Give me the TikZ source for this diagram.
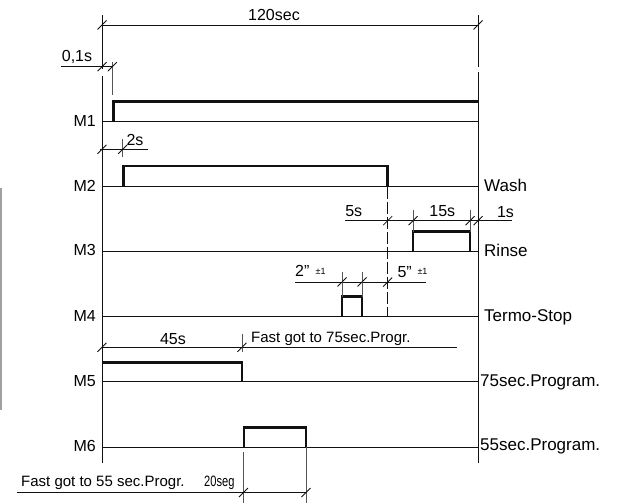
\documentclass[tikz,border=0pt]{standalone}
\usepackage{fontspec}
\setmainfont{Liberation Sans}
\newfontfamily\narrowfont[FakeStretch=0.74]{Liberation Sans}
\usepackage{xcolor}
\usetikzlibrary{positioning}
\definecolor{ink}{HTML}{111111}
\definecolor{inkgray}{HTML}{555555}
\definecolor{scangray}{HTML}{A0A0A0}
\tikzset{
  axisline/.style={draw=ink,line width=0.9pt},
  signal/.style={draw=ink,line width=2.8pt},
  dimline/.style={draw=ink,line width=0.8pt},
  extline/.style={draw=inkgray,line width=0.7pt},
  dimtick/.pic={\draw[ink,line width=0.8pt] (-4.5,4.5) -- (4.5,-4.5);},
  chanlabel/.style={anchor=base east,inner sep=0pt,font=\fontsize{16}{18}\selectfont},
  progname/.style={anchor=base west,inner sep=0pt,font=\fontsize{17}{19}\selectfont},
  dimtext/.style={anchor=base,inner sep=0pt,font=\fontsize{16}{18}\selectfont},
  notetext/.style={anchor=base west,inner sep=0pt,font=\fontsize{15}{17}\selectfont},
  toltext/.style={anchor=base west,inner sep=0pt,font=\fontsize{9}{10}\selectfont}
}

\begin{document}
\begin{tikzpicture}[x=1pt,y=-1pt]
  \useasboundingbox (0,0) rectangle (618,503);
  \draw[draw=scangray,line width=1.2pt] (1,188) -- (1,410);

  % axes
  \draw[axisline] (102,15) -- (102,68.5) (102,76) -- (102,463);
  \draw[axisline] (478,15) -- (478,67) (478,72) -- (478,463);
  \foreach \yb/\ch in {121.7/1,186.7/2,251/3,316.7/4,381.7/5,447/6}{
    \draw[axisline] (102,\yb) -- (478,\yb);
    \node[chanlabel] (m\ch) at (96,\yb+4.5) {M\ch};
  }
  \node[progname] (wash) at (484,191) {Wash};
  \node[progname] (rinse) at (484,256) {Rinse};
  \node[progname] (termo) at (484,321) {Termo-Stop};
  \node[progname] (p75) at (480,386.5) {75sec.Program.};
  \node[progname] (p55) at (480,450) {55sec.Program.};

  % signals
  \draw[signal] (113.3,121.7) |- (478,101.5);
  \draw[signal] (123.3,186.7) |- (387.7,166) -- (387.7,186.7);
  \draw[signal] (413,251) |- (470,231.7) -- (470,251);
  \draw[signal] (342,316.7) |- (362,296.7) -- (362,316.7);
  \draw[signal] (102,362.7) -| (242,381.7);
  \draw[signal] (244,447) |- (306,427.3) -- (306,447);
  \draw[axisline,dash pattern=on 12pt off 3pt] (387.7,186.7) -- (387.7,316.7);

  % 120sec
  \draw[dimline] (102,25) -- (478,25);
  \pic at (102,25) {dimtick}; \pic at (478,25) {dimtick};
  \node[dimtext] (t120) at (274,20.7) {120sec};

  % 0,1s
  \draw[dimline] (61,66.7) -- (112.3,66.7);
  \draw[extline] (112.3,61.7) -- (112.3,95);
  \pic at (102,66.7) {dimtick}; \pic at (112.3,66.7) {dimtick};
  \node[dimtext] (t01) at (77,61) {0,1s};

  % 2s
  \draw[dimline] (100,149.3) -- (148,149.3);
  \draw[extline] (122.7,139.3) -- (122.7,157);
  \pic at (102,149.3) {dimtick}; \pic at (122.7,149.3) {dimtick};
  \node[dimtext] (t2) at (135,145) {2s};

  % 5s, 15s, 1s
  \draw[dimline] (345,220.7) -- (512,220.7);
  \draw[extline] (413,210) -- (413,231.7) (470,210) -- (470,231.7);
  \foreach \xt in {387.7,413,470,478} \pic at (\xt,220.7) {dimtick};
  \node[dimtext] (t5) at (353.7,216) {5s};
  \node[dimtext] (t15) at (442.3,216) {15s};
  \node[dimtext] (t1) at (505.5,217.5) {1s};

  % 2" and 5"
  \draw[dimline] (295,282) -- (425.7,282);
  \draw[extline] (342,271.7) -- (342,296.7) (362,271.7) -- (362,296.7);
  \foreach \xt in {342,362,387.7} \pic at (\xt,282) {dimtick};
  \node[dimtext,anchor=base west] (t2q) at (295,276.7) {2"};
  \node[toltext] (tol2) at (315.5,274.3) {±1};
  \node[dimtext,anchor=base west] (t5q) at (397.3,277.3) {5"};
  \node[toltext] (tol5) at (417.3,274.8) {±1};

  % 45s
  \draw[dimline] (102,347.3) -- (457,347.3);
  \draw[extline] (242,334) -- (242,352);
  \pic at (102,347.3) {dimtick}; \pic at (242,347.3) {dimtick};
  \node[dimtext] (t45) at (173,344) {45s};
  \node[notetext] (fast75) at (251,342) {Fast got to 75sec.Progr.};

  % 20seg
  \draw[dimline] (17,492.5) -- (306,492.5);
  \draw[extline] (243.5,452) -- (243.5,503) (306,447) -- (306,503);
  \pic at (243.5,492.5) {dimtick}; \pic at (306,492.5) {dimtick};
  \node[notetext] (fast55) at (21,486) {Fast got to 55 sec.Progr.};
  \node[notetext,font=\fontsize{15}{17}\narrowfont] (t20) at (204,486) {20seg};
\end{tikzpicture}
\end{document}
